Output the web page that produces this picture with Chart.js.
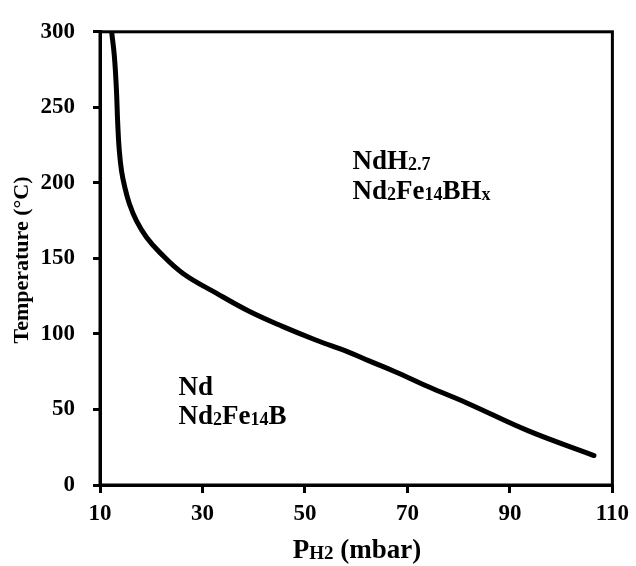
<!DOCTYPE html>
<html>
<head>
<meta charset="utf-8">
<script src="https://cdn.jsdelivr.net/npm/chart.js@4"></script>
<style>
  html, body { margin: 0; padding: 0; background: #fff; }
  #wrap { width: 636px; height: 566px; }
</style>
</head>
<body>
<div id="wrap"><canvas id="phase"></canvas></div>
<script>
// H2 pressure (mbar) vs temperature (°C) along the phase boundary
const pressure = [12.27, 12.8, 13.2, 13.45, 13.75, 14.2, 14.85, 15.75, 17.1, 19.07, 21.65, 26.2, 32.7, 39.1, 45.6, 52.1, 58.5, 62.4, 67.6, 74.1, 81.8, 93.5, 106.4]
const temperature = [300, 284, 262, 240, 222, 208, 197, 186, 175, 164, 154, 140, 127, 115, 105, 96, 88, 82.3, 75, 65, 54, 36, 19.5]

const xTicks = [10, 30, 50, 70, 90, 110]
const yTicks = [0, 50, 100, 150, 200, 250, 300]

// region labels: [x, y, parts], parts are [text, isSubscript]
const regions = [
    [25.3, 59.7, [["Nd", false]]],
    [25.3, 40.3, [["Nd", false], ["2", true], ["Fe", false], ["14", true], ["B", false]]],
    [59.3, 209, [["NdH", false], ["2.7", true]]],
    [59.3, 189.4, [["Nd", false], ["2", true], ["Fe", false], ["14", true], ["BH", false], ["x", true]]]
]

const SERIF = '"Liberation Serif", "Times New Roman", serif'

function drawRich(ctx, parts, x, y, size, subSize, align) {
    const mainFont = "bold " + size + "px " + SERIF
    const subFont = "bold " + subSize + "px " + SERIF
    let total = 0
    parts.forEach(([t, sub]) => {
        ctx.font = sub ? subFont : mainFont
        total += ctx.measureText(t).width
    })
    let cx = align === "center" ? x - total / 2 : x
    ctx.textAlign = "left"
    ctx.textBaseline = "alphabetic"
    parts.forEach(([t, sub]) => {
        ctx.font = sub ? subFont : mainFont
        ctx.fillText(t, cx, y + (sub ? 1 : 0))
        cx += ctx.measureText(t).width
    })
}

const decorations = {
    id: "decorations",
    afterDraw(chart) {
        const { ctx, chartArea: a, scales } = chart
        ctx.save()
        // frame
        ctx.strokeStyle = "#000"
        ctx.lineWidth = 3
        ctx.strokeRect(a.left, a.top, a.right - a.left, a.bottom - a.top)
        ctx.fillStyle = "#000"
        // region labels
        regions.forEach(([x, y, parts]) => {
            drawRich(ctx, parts, scales.x.getPixelForValue(x), scales.y.getPixelForValue(y), 27, 18, "left")
        })
        // x title
        drawRich(ctx, [["P", false], ["H2", true], [" (mbar)", false]], 357, 558, 27, 19, "center")
        // y title
        ctx.translate(28, 260)
        ctx.rotate(-Math.PI / 2)
        ctx.font = "bold 22px " + SERIF
        ctx.textAlign = "center"
        ctx.textBaseline = "alphabetic"
        ctx.fillText("Temperature (°C)", 0, 0)
        ctx.restore()
    }
}

const tickFont = { family: SERIF, size: 23, weight: "bold" }

new Chart(document.getElementById("phase"), {
    type: "line",
    data: {
        datasets: [{
            data: pressure.map((p, i) => ({ x: p, y: temperature[i] })),
            borderColor: "#000",
            borderWidth: 5,
            borderCapStyle: "round",
            borderJoinStyle: "round",
            pointRadius: 0,
            tension: 0.4,
            fill: false
        }]
    },
    options: {
        responsive: true,
        maintainAspectRatio: false,
        animation: false,
        layout: { padding: { top: 23, right: 23, left: 0, bottom: 0 } },
        plugins: { legend: { display: false }, tooltip: { enabled: false } },
        scales: {
            x: {
                type: "linear",
                min: 10,
                max: 110,
                afterBuildTicks: s => { s.ticks = xTicks.map(v => ({ value: v })) },
                afterFit: s => { s.height = 81 },
                border: { color: "#000", width: 3 },
                grid: { drawOnChartArea: false, color: "#000", lineWidth: 3, tickLength: 8 },
                ticks: { color: "#000", font: tickFont, padding: 7, maxRotation: 0 }
            },
            y: {
                min: 0,
                max: 300,
                afterBuildTicks: s => { s.ticks = yTicks.map(v => ({ value: v })) },
                afterFit: s => { s.width = 100 },
                border: { color: "#000", width: 3 },
                grid: { drawOnChartArea: false, color: "#000", lineWidth: 3, tickLength: 7 },
                ticks: { color: "#000", font: tickFont, padding: 18 }
            }
        }
    },
    plugins: [decorations]
})
</script>
</body>
</html>
